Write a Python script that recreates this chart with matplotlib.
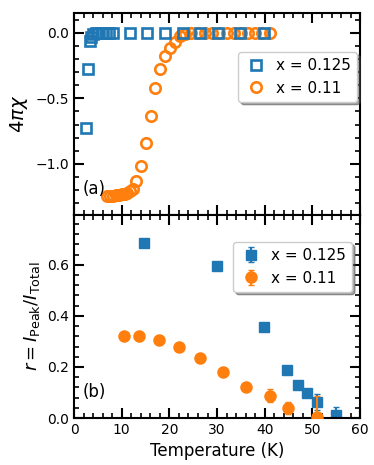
import matplotlib
matplotlib.use("Agg")
import matplotlib.pyplot as plt
import numpy as np

# Panel (a): susceptibility
T_a_125 = [2.45, 3.0, 3.35, 3.6, 4.0, 4.5, 5.0, 5.8, 6.6, 7.4, 8.2, 11.7, 15.4, 19.1, 22.8, 26.4, 30.1, 34.8, 39.9]
chi_125 = [-0.727, -0.273, -0.06, -0.03, -0.01, -0.003, 0.0, 0.0, 0.0, 0.0, 0.0, 0.0, 0.0, 0.0, 0.0, 0.0, 0.0, 0.0, 0.0]

T_a_11 = [7.0, 7.6, 8.2, 8.8, 9.4, 10.0, 10.6, 11.2, 11.8, 12.4, 13.0, 14.1, 15.0, 16.1, 17.05,
          18.0, 19.0, 20.1, 21.2, 22.2, 23.3, 24.5, 26.0, 27.5, 29.0, 30.5, 32.0, 33.5, 35.0,
          36.5, 38.0, 39.5, 41.0]
chi_11 = [-1.245, -1.245, -1.243, -1.240, -1.237, -1.233, -1.228, -1.222, -1.21, -1.19, -1.13,
          -1.013, -0.842, -0.638, -0.421, -0.273, -0.179, -0.115, -0.072, -0.026, -0.01, -0.003,
          0.0, 0.0, 0.0, 0.0, 0.0, 0.0, 0.0, 0.0, 0.0, 0.0, 0.0]

# Panel (b): intensity ratio
T_b_125 = [14.7, 29.9, 39.9, 44.7, 46.9, 48.8, 50.9, 54.9]
r_125 = [0.686, 0.594, 0.355, 0.189, 0.128, 0.098, 0.063, 0.013]
err_125 = [0.005, 0.005, 0.008, 0.008, 0.008, 0.01, 0.03, 0.03]

T_b_11 = [10.5, 13.7, 17.8, 22.0, 26.4, 31.2, 36.1, 41.0, 44.8, 50.9]
r_11 = [0.320, 0.323, 0.307, 0.277, 0.235, 0.180, 0.120, 0.087, 0.039, 0.006]
err_11 = [0.01, 0.01, 0.01, 0.01, 0.01, 0.01, 0.012, 0.025, 0.025, 0.08]

labels = ["x = 0.125", "x = 0.11"]
blue = "#1f77b4"
orange = "#ff7f0e"

fig = plt.figure(figsize=(3.74, 4.65), dpi=100)
ax1 = fig.add_axes([0.198, 0.5376, 0.765, 0.4344])
ax2 = fig.add_axes([0.198, 0.101, 0.765, 0.4366], sharex=ax1)

ax1.plot(T_a_11, chi_11, 'o', mfc='none', mec=orange, ms=7.5, mew=1.9, label=labels[1], zorder=2)
ax1.plot(T_a_125, chi_125, 's', mfc='none', mec=blue, ms=7.5, mew=1.9, label=labels[0], zorder=3)
h, l = ax1.get_legend_handles_labels()
ax1.legend([h[1], h[0]], [l[1], l[0]], loc='upper right', bbox_to_anchor=(0.99, 0.807),
           borderaxespad=0, shadow=True, fancybox=True, fontsize=11, handletextpad=0.5,
           handlelength=1.6, framealpha=1)
ax1.set_ylim(-1.39, 0.15)
ax1.set_ylabel(r"$4\pi\chi$", fontsize=14)
ax1.text(1.9, -1.19, "(a)", fontsize=12, va='center')
ax1.set_yticks([0.0, -0.5, -1.0])
ax1.yaxis.set_minor_locator(matplotlib.ticker.MultipleLocator(0.1))

ax2.errorbar(T_b_125, r_125, yerr=err_125, fmt='s', color=blue, ms=7.5, capsize=2.5,
             elinewidth=1.5, label=labels[0], zorder=2)
ax2.errorbar(T_b_11, r_11, yerr=err_11, fmt='o', color=orange, ms=8, capsize=2.5,
             elinewidth=1.5, label=labels[1], zorder=3)
ax2.legend(loc='upper right', bbox_to_anchor=(0.972, 0.867), borderaxespad=0, shadow=True,
           fancybox=True, fontsize=11, handletextpad=0.5, handlelength=1.6, framealpha=1)
ax2.set_ylim(0, 0.795)
ax2.set_xlim(0, 60)
ax2.set_yticks([0.0, 0.2, 0.4, 0.6])
ax2.yaxis.set_minor_locator(matplotlib.ticker.MultipleLocator(0.04))
ax2.xaxis.set_major_locator(matplotlib.ticker.MultipleLocator(10))
ax2.xaxis.set_minor_locator(matplotlib.ticker.MultipleLocator(2))
ax2.set_xlabel("Temperature (K)", fontsize=12)
ax2.set_ylabel(r"$r = I_{\rm Peak}/I_{\rm Total}$", fontsize=13)
ax2.text(1.9, 0.10, "(b)", fontsize=12, va='center')

for ax in (ax1, ax2):
    ax.tick_params(which='both', direction='in', top=True, right=True, labelsize=10)
    ax.tick_params(which='major', length=7, width=1.5)
    ax.tick_params(which='minor', length=3.8, width=1.2)
    for s in ax.spines.values():
        s.set_linewidth(1.5)
plt.setp(ax1.get_xticklabels(), visible=False)

fig.savefig("out.png", dpi=100)
